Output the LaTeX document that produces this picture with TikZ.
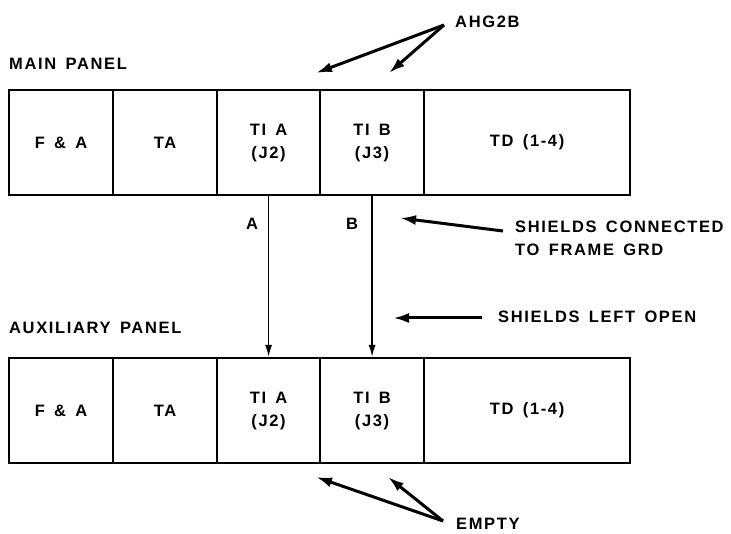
\documentclass[tikz,border=0pt]{standalone}
\usepackage{fontspec}
\setmainfont{Liberation Sans}[LetterSpace=10,WordSpace=1.5]
\usetikzlibrary{arrows.meta,positioning}
\tikzset{
 cell/.style={draw,line width=2.2pt,inner sep=0pt,anchor=north west,align=center,minimum height=105pt},
 wire/.style={line width=1.7pt,-{Latex[length=12pt,width=7pt]}},
 lead/.style={line width=3pt,-{Latex[length=16pt,width=10pt]}},
 lbl/.style={inner sep=0pt,align=left}
}
\begin{document}
\begin{tikzpicture}[x=1pt,y=-1pt,font=\bfseries\fontsize{16.5}{23}\selectfont]
\useasboundingbox (0,0) rectangle (731,534);
% the two panels
\foreach \p/\y in {main/89,aux/357}{
 \foreach \nm/\x/\w/\t in {fa/8/104/{F \& A},ta/112/104/TA,tia/216/103/{TI A\\(J2)},tib/319/104/{TI B\\(J3)},td/423/206/{TD (1-4)}}{
  \node[cell,minimum width=\w pt] (\p-\nm) at (\x,\y) {\t};
 }
}
\node[lbl,anchor=west] (mainlbl) at (9,64) {MAIN PANEL};
\node[lbl,anchor=west] (auxlbl) at (9,328) {AUXILIARY PANEL};
% cables
\draw[wire] (main-tia.south) -- (aux-tia.north);
\draw[wire] (main-tib.south) -- (aux-tib.north);
\node[lbl] (cablea) at (252,224) {A};
\node[lbl] (cableb) at (352,224) {B};
% notes
\node[lbl,anchor=west] (ahg) at (455,22) {AHG2B};
\coordinate (ahgtail) at (444,25);
\coordinate (ahgtipa) at (316,73);
\coordinate (ahgtipb) at (389,73);
\draw[lead] (ahgtail) -- (ahgtipa);
\draw[lead] (ahgtail) -- (ahgtipb);
\node[lbl,anchor=north west] (shcon) at (515,221) {SHIELDS CONNECTED\\TO FRAME GRD};
\coordinate (shcontail) at (503,231);
\coordinate (shcontip) at (400,218);
\draw[lead] (shcontail) -- (shcontip);
\node[lbl,anchor=west] (shopen) at (498,317) {SHIELDS LEFT OPEN};
\coordinate (shopentail) at (482,318);
\coordinate (shopentip) at (393,318);
\draw[lead] (shopentail) -- (shopentip);
\node[lbl,anchor=west] (empty) at (456,524) {EMPTY};
\coordinate (emptytail) at (443,521);
\coordinate (emptytipa) at (316,477);
\coordinate (emptytipb) at (388,477);
\draw[lead] (emptytail) -- (emptytipa);
\draw[lead] (emptytail) -- (emptytipb);
\end{tikzpicture}
\end{document}
